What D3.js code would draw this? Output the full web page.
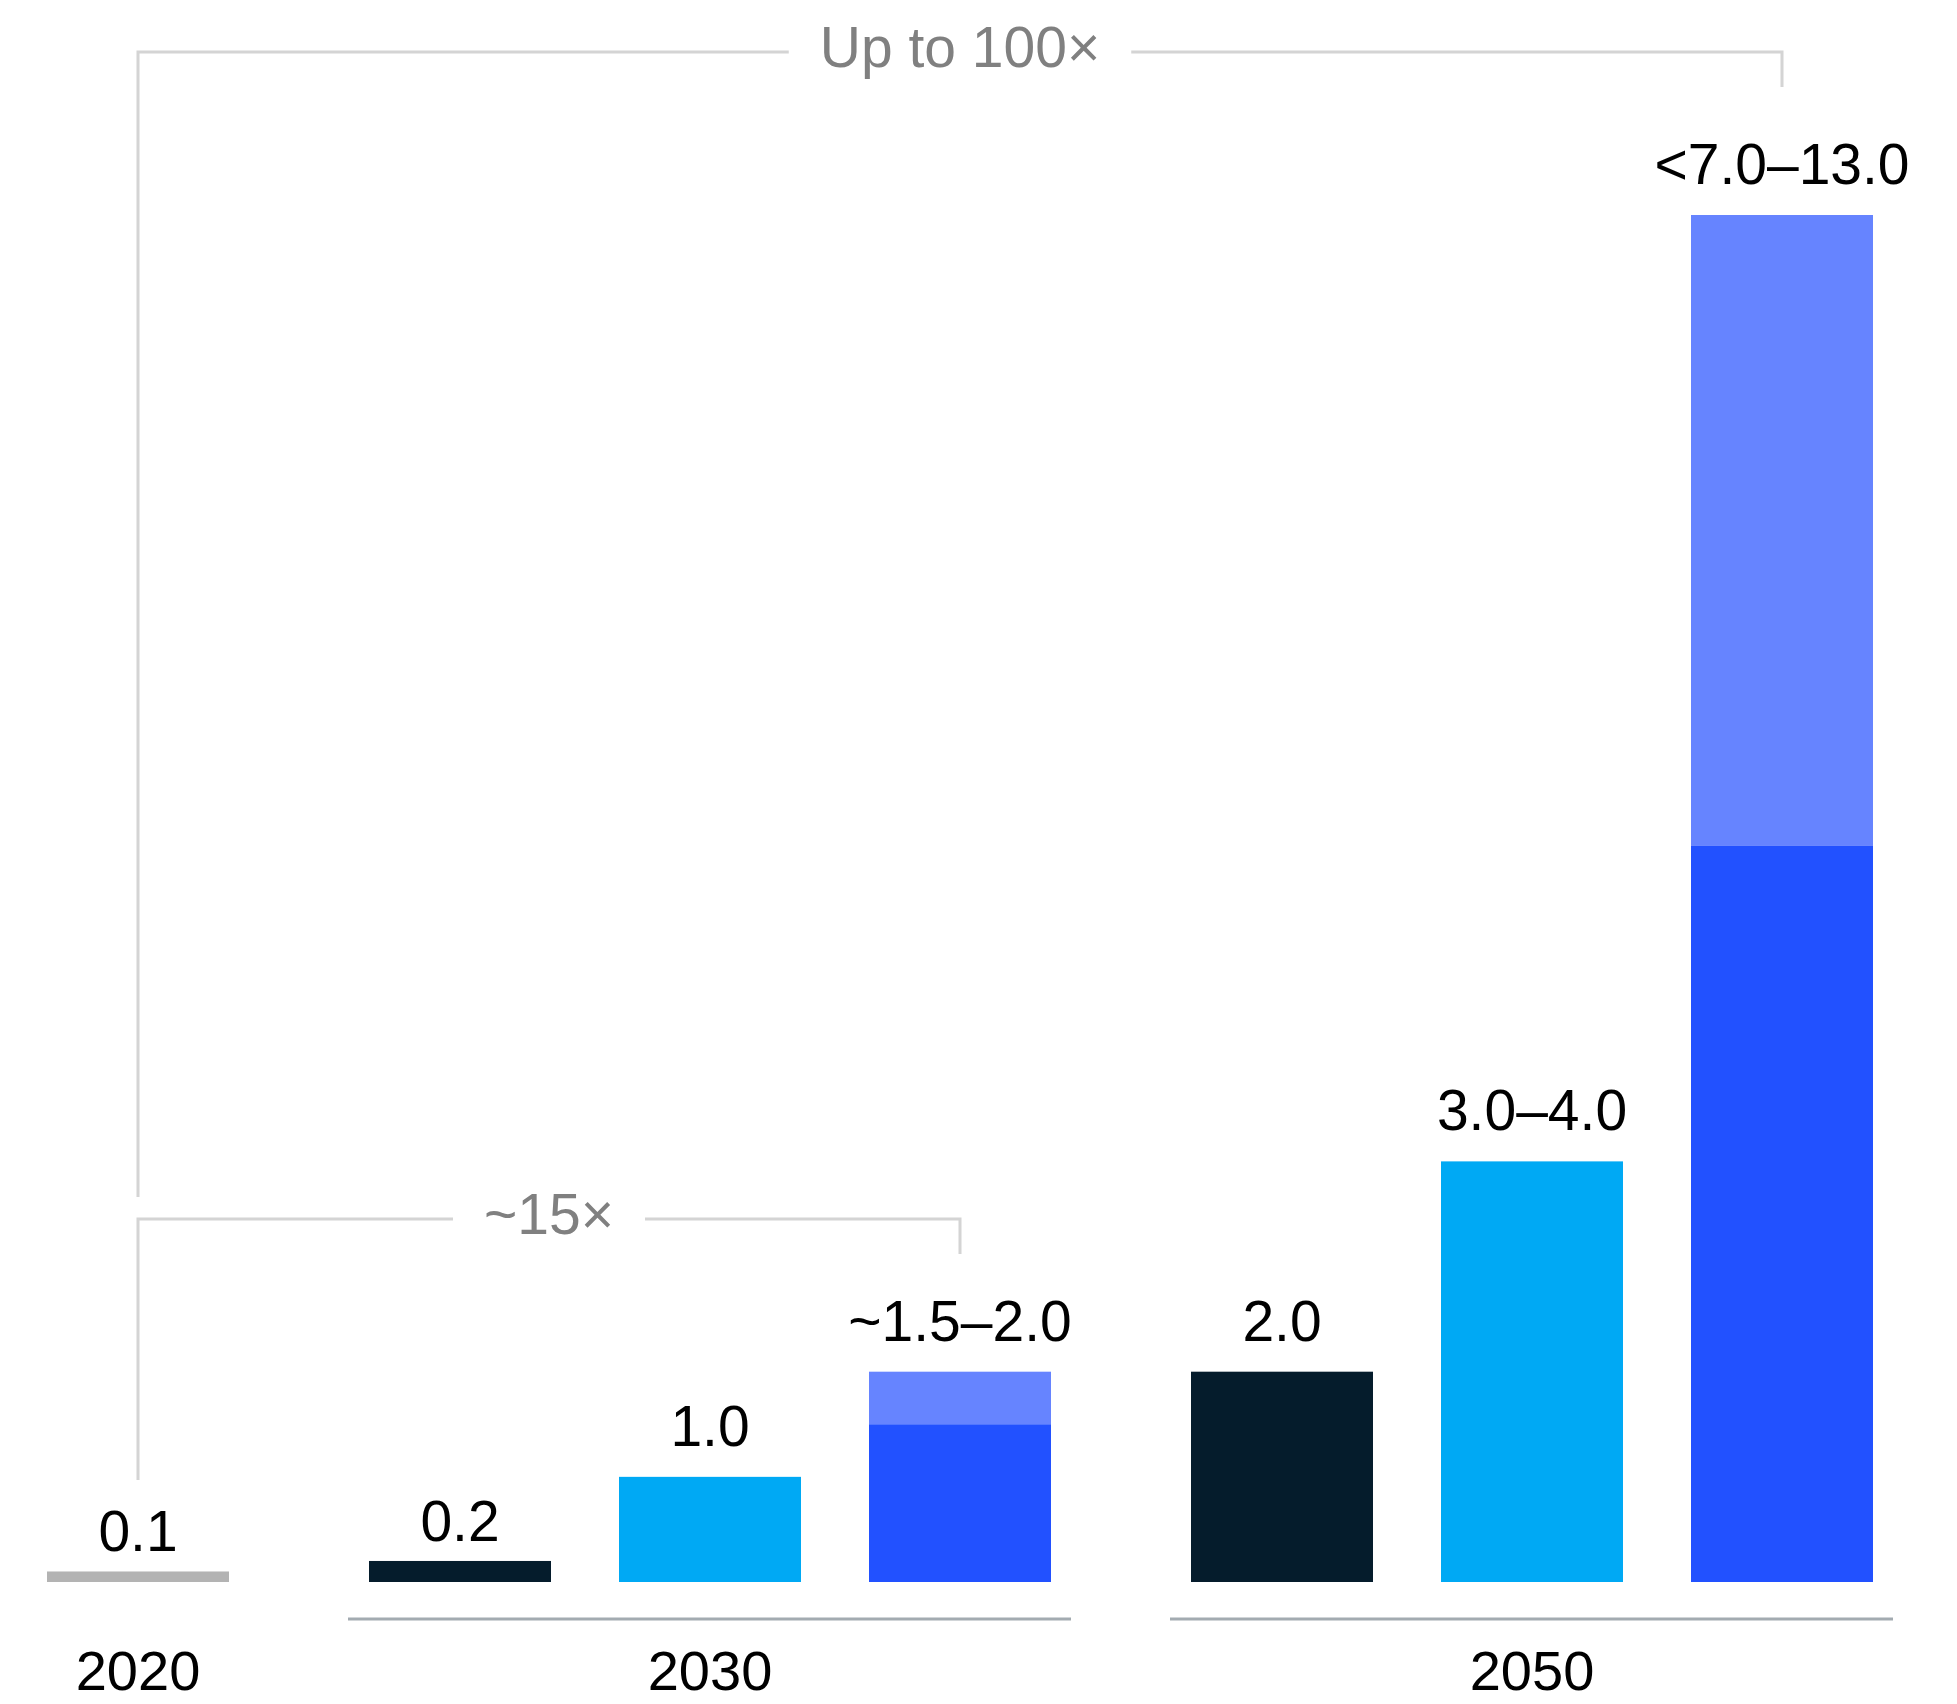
<!DOCTYPE html>
<html>
<head>
<meta charset="utf-8">
<script src="https://cdn.jsdelivr.net/npm/d3@7"></script>
<style>
  body { margin: 0; background: #fff; }
  text { font-family: "Liberation Sans", Arial, sans-serif; }
</style>
</head>
<body>
<div id="chart-area"></div>
<script>
// dane
const years = ["2020", "2030", "2050"];
const barYear = ["2020", "2030", "2030", "2030", "2050", "2050", "2050"];
const barSeries = ["base", "s1", "s2", "s3", "s1", "s2", "s3"];
const barSolid = [0.1, 0.2, 1.0, 1.5, 2.0, 4.0, 7.0];      // pelny kolor
const barUpper = [null, null, null, 2.0, null, null, 13.0]; // gorna czesc zakresu
const barLabels = ["0.1", "0.2", "1.0", "~1.5\u20132.0", "2.0", "3.0\u20134.0", "<7.0\u201313.0"];
const brackets = [
  { from: 0, to: 6, text: "Up to 100\u00d7" },
  { from: 0, to: 3, text: "~15\u00d7" }
];

const colors = { base: "#b3b3b3", s1: "#051c2c", s2: "#00a9f4", s3: "#2251ff" };
const upperColor = "#6684ff";

const W = 1957, H = 1704;
const svg = d3.select("#chart-area").append("svg")
  .attr("width", W)
  .attr("height", H);

// pozycja slotu = indeks slupka + odstep miedzy grupami
const groupGap = 0.288;
const slot = i => i + years.indexOf(barYear[i]) * groupGap;
const x = d3.scaleLinear().domain([0, 1]).range([47, 297]);
const barW = 182;
const y = d3.scaleLinear().domain([0, 13]).range([1582, 215]);

const bars = barSolid.map((v, i) => ({ i, v, up: barUpper[i], label: barLabels[i], s: barSeries[i] }));
const cx = i => x(slot(i)) + barW / 2;

// gorne czesci zakresu
svg.selectAll("rect.upper")
  .data(bars.filter(d => d.up != null))
  .enter().append("rect")
  .attr("class", "upper")
  .attr("x", d => x(slot(d.i)))
  .attr("y", d => y(d.up))
  .attr("width", barW)
  .attr("height", d => y(d.v) - y(d.up))
  .attr("fill", upperColor);

svg.selectAll("rect.solid")
  .data(bars)
  .enter().append("rect")
  .attr("class", "solid")
  .attr("x", d => x(slot(d.i)))
  .attr("y", d => y(d.v))
  .attr("width", barW)
  .attr("height", d => y(0) - y(d.v))
  .attr("fill", d => colors[d.s]);

svg.selectAll("text.val")
  .data(bars)
  .enter().append("text")
  .attr("class", "val")
  .attr("x", d => cx(d.i))
  .attr("y", d => {
    const top = d.up != null ? d.up : d.v;
    return y(top) - (top < 0.5 ? 20 : 31);
  })
  .attr("text-anchor", "middle")
  .attr("font-size", 57)
  .attr("fill", "#000")
  .text(d => d.label);

// linie grup i lata
years.forEach(yr => {
  const idx = barYear.map((b, i) => b === yr ? i : -1).filter(i => i >= 0);
  const x0 = x(slot(idx[0])), x1 = x(slot(idx[idx.length - 1])) + barW;
  if (idx.length > 1) {
    svg.append("line")
      .attr("x1", x0 - 21).attr("x2", x1 + 20)
      .attr("y1", 1619).attr("y2", 1619)
      .attr("stroke", "#a3abb1").attr("stroke-width", 3);
  }
  svg.append("text")
    .attr("x", (x0 + x1) / 2)
    .attr("y", 1690)
    .attr("text-anchor", "middle")
    .attr("font-size", 56)
    .attr("fill", "#000")
    .text(yr);
});

// nawiasy z mnoznikami
const bracketY = [52, 1219];
const leftEnd = [1197, 1480];
brackets.forEach((b, k) => {
  const xl = cx(b.from), xr = cx(b.to), by = bracketY[k];
  const mid = (xl + xr) / 2;
  const t = svg.append("text")
    .attr("x", mid).attr("y", by + 15)
    .attr("text-anchor", "middle")
    .attr("font-size", 57)
    .attr("fill", "#808080")
    .text(b.text);
  const half = t.node().getComputedTextLength() / 2 + 31;
  const g = svg.append("g").attr("stroke", "#d4d4d4").attr("stroke-width", 3).attr("fill", "none");
  g.append("path").attr("d", `M${xl},${leftEnd[k]}V${by}H${mid - half}`);
  g.append("path").attr("d", `M${mid + half},${by}H${xr}V${by + 35}`);
});
</script>
</body>
</html>
